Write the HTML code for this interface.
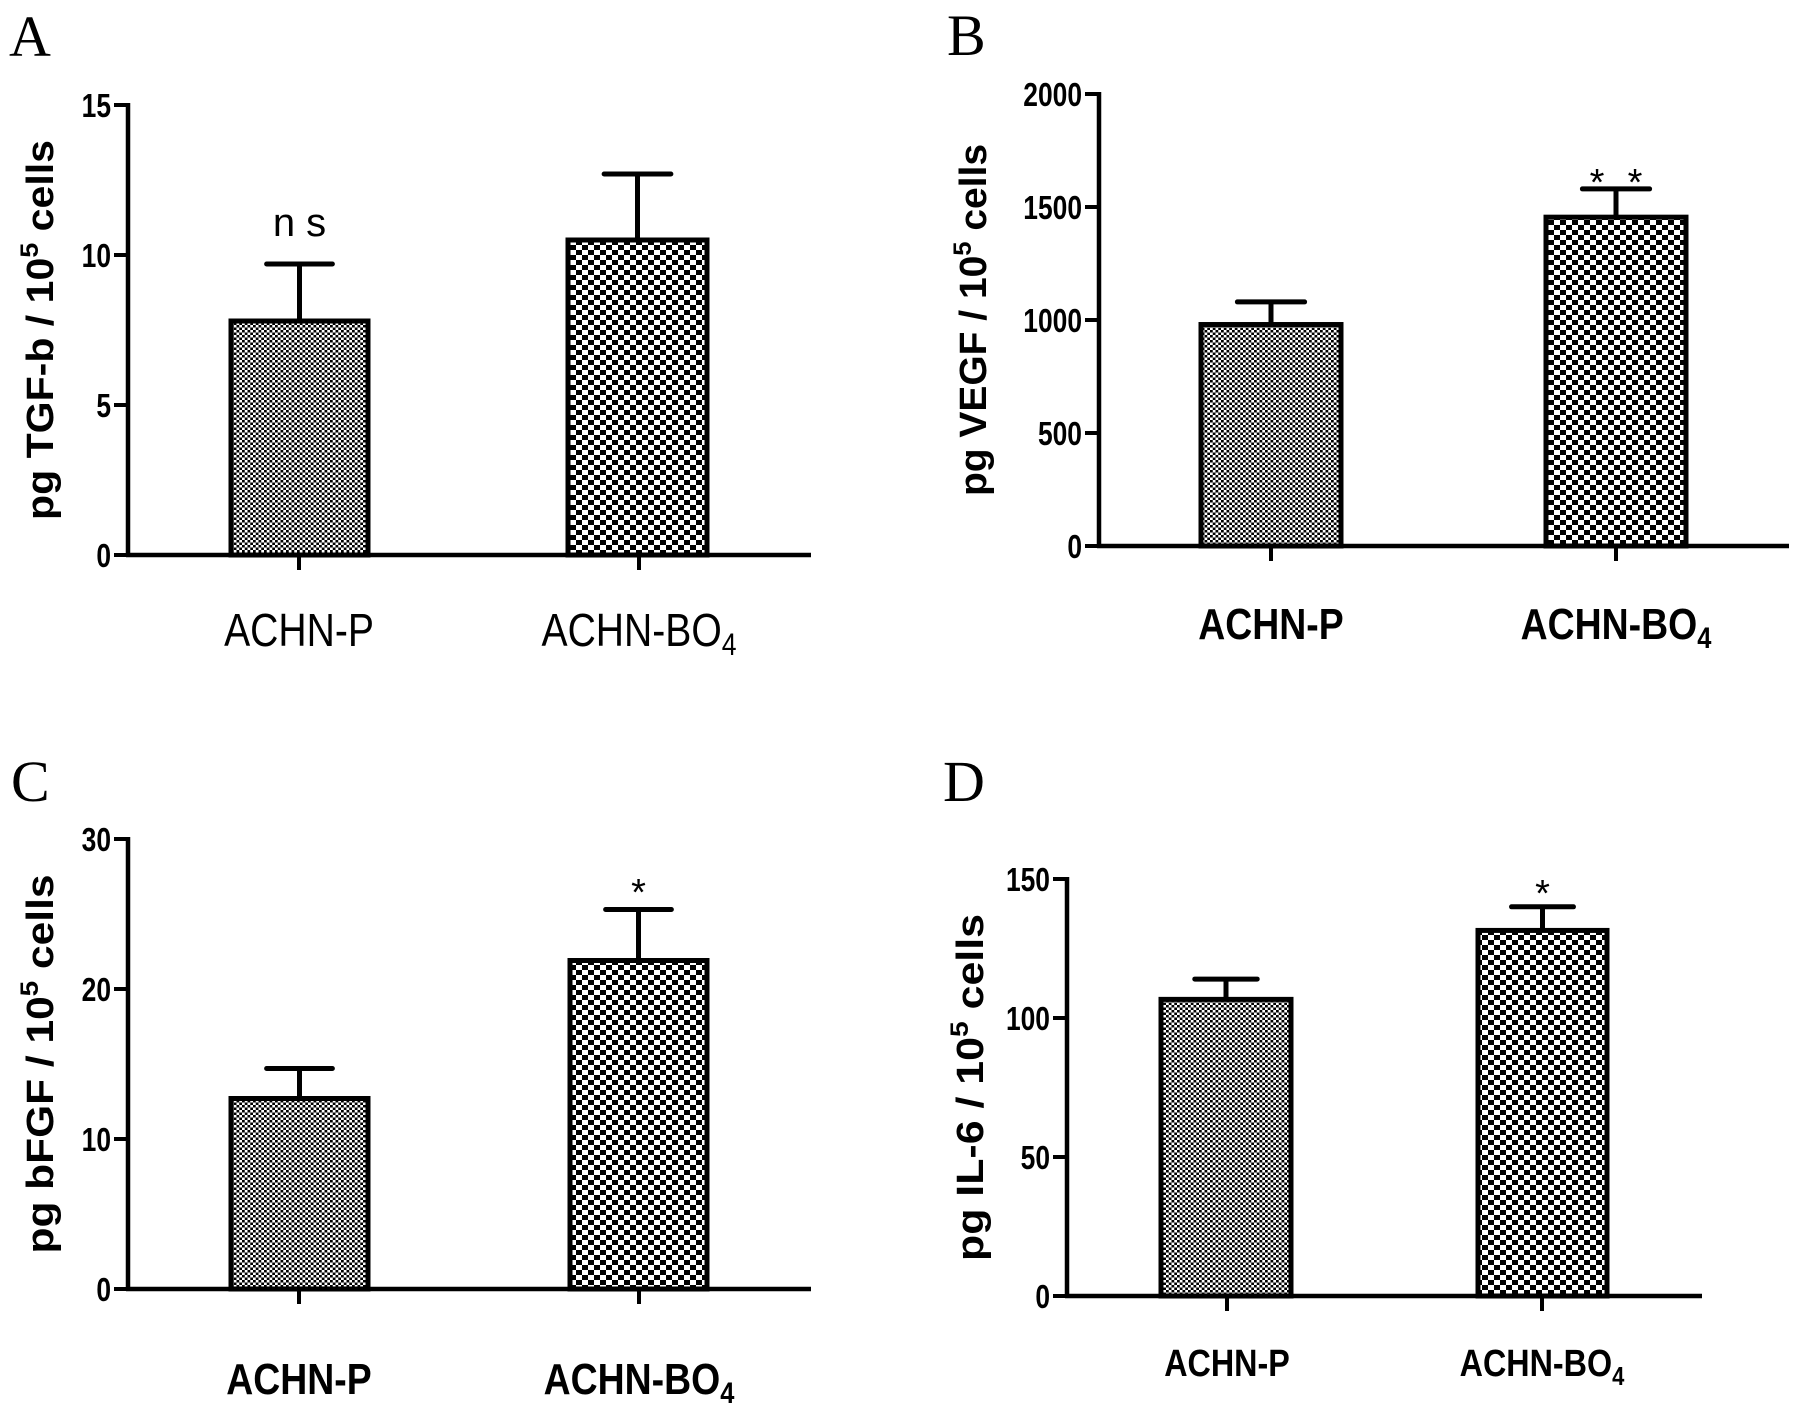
<!DOCTYPE html>
<html><head><meta charset="utf-8">
<style>
html,body{margin:0;padding:0;background:#fff;}
svg{display:block;}
text{font-family:"Liberation Sans",Arial,sans-serif;fill:#000;}
.tick{font-weight:bold;font-size:33px;}
.ytitle{font-weight:bold;font-size:38px;}
.letter{font-family:"Liberation Serif",serif;font-size:58px;}
</style></head>
<body>
<svg id="fig" width="1795" height="1403" viewBox="0 0 1795 1403" xmlns="http://www.w3.org/2000/svg">
<defs>
<pattern id="fine" width="5.5" height="5" patternUnits="userSpaceOnUse">
<rect width="5.5" height="5" fill="#fff"/><rect width="2.75" height="2.5" fill="#000"/><rect x="2.75" y="2.5" width="2.75" height="2.5" fill="#000"/>
</pattern>
<pattern id="coarse" width="12" height="10" patternUnits="userSpaceOnUse">
<rect width="12" height="10" fill="#fff"/><rect width="6" height="5" fill="#000"/><rect x="6" y="5" width="6" height="5" fill="#000"/>
</pattern>
</defs>
</svg>
<script>
const categories = ["ACHN-P", "ACHN-BO"];
const aValues = [7.8, 10.5];
const aErrors = [1.9, 2.2];
const aTicks = [0, 5, 10, 15];
const bValues = [980, 1455];
const bErrors = [100, 125];
const bTicks = [0, 500, 1000, 1500, 2000];
const cValues = [12.7, 21.9];
const cErrors = [2.0, 3.4];
const cTicks = [0, 10, 20, 30];
const dValues = [106.7, 131.5];
const dErrors = [7.3, 8.5];
const dTicks = [0, 50, 100, 150];
const annotations = [["ns", ""], ["", "**"], ["", "*"], ["", "*"]];

const NS = "http://www.w3.org/2000/svg";
const svg = document.getElementById("fig");
function mk(tag, attrs, parent) {
  const e = document.createElementNS(NS, tag);
  for (const k in attrs) e.setAttribute(k, attrs[k]);
  (parent || svg).appendChild(e);
  return e;
}

const panels = [
  {id:"a", letter:"A", lx:9, ly:56, ax:128, y0:555, y1:105, xEnd:811, max:15, ticks:aTicks, vals:aValues, errs:aErrors,
   bars:[[231,368],[568,707]], tx:[299,639], title:"pg TGF-b / 10", tlen:380, tcx:40, lblY:646, lblSize:46, lblBold:false, annY:236},
  {id:"b", letter:"B", lx:947, ly:55, ax:1099, y0:546, y1:94, xEnd:1789, max:2000, ticks:bTicks, vals:bValues, errs:bErrors,
   bars:[[1201,1341],[1546,1686]], tx:[1271,1616], title:"pg VEGF / 10", tlen:352, tcx:973, lblY:639, lblSize:44, lblBold:true, annY:195},
  {id:"c", letter:"C", lx:11, ly:801, ax:128, y0:1289, y1:839, xEnd:811, max:30, ticks:cTicks, vals:cValues, errs:cErrors,
   bars:[[231,368],[570,707]], tx:[299,639], title:"pg bFGF / 10", tlen:379, tcx:40, lblY:1394, lblSize:44, lblBold:true, annY:905},
  {id:"d", letter:"D", lx:943, ly:801, ax:1067, y0:1296, y1:879, xEnd:1702, max:150, ticks:dTicks, vals:dValues, errs:dErrors,
   bars:[[1161,1291],[1478,1607]], tx:[1227,1542], title:"pg IL-6 / 10", tlen:347, tcx:970, lblY:1376, lblSize:38, lblBold:true, annY:906}
];

panels.forEach((p, pi) => {
  const g = mk("g", {});
  
  
  const yScale = v => p.y0 - (v / p.max) * (p.y0 - p.y1);

  const L = mk("text", {x:p.lx, y:p.ly, class:"letter"}, g);
  L.textContent = p.letter;
  
  

  p.vals.forEach((v, i) => {
    const [x0, x1] = p.bars[i];
    const top = yScale(v);
    const et = yScale(v + p.errs[i]);
    const cx = (x0 + x1) / 2;
    const eb = mk("line", {x1:cx, y1:top, x2:cx, y2:et, stroke:"#000", "stroke-width":5}, g);
    
    
    const cap = mk("line", {x1:cx - (x1 - x0) * 0.24, y1:et, x2:cx + (x1 - x0) * 0.24, y2:et, stroke:"#000", "stroke-width":5, "stroke-linecap":"round"}, g);
    
    
    const r = mk("rect", {x:x0, y:top, width:x1 - x0, height:p.y0 - top, fill:i === 0 ? "url(#fine)" : "url(#coarse)", stroke:"#000", "stroke-width":5}, g);
    
    
    const ann = annotations[pi][i];
    if (ann === "ns") {
      const t = mk("text", {x:cx, y:p.annY, "text-anchor":"middle", "font-size":40}, g);
      t.textContent = "n s";
      
      
    } else if (ann) {
      const n = ann.length;
      for (let k = 0; k < n; k++) {
        const sx = cx + (k - (n - 1) / 2) * 38;
        const t = mk("text", {x:sx, y:p.annY, "text-anchor":"middle", "font-size":38}, g);
        t.textContent = "*";
        
        
      }
    }
  });

  const ya = mk("line", {x1:p.ax, y1:p.y1 - 2, x2:p.ax, y2:p.y0 + 2, stroke:"#000", "stroke-width":4.5}, g);
  
  
  const xa = mk("line", {x1:p.ax - 2, y1:p.y0, x2:p.xEnd, y2:p.y0, stroke:"#000", "stroke-width":4.5}, g);
  
  

  p.ticks.forEach(t => {
    const y = yScale(t);
    mk("line", {x1:p.ax - 14, y1:y, x2:p.ax, y2:y, stroke:"#000", "stroke-width":4}, g);
    const tl = mk("text", {x:0, y:0, "text-anchor":"end", class:"tick", transform:"translate(" + (p.ax - 17) + "," + (y + 12) + ") scale(0.8,1)"}, g);
    tl.textContent = t;
    
    
  });

  p.tx.forEach((x, i) => {
    mk("line", {x1:x, y1:p.y0, x2:x, y2:p.y0 + 15, stroke:"#000", "stroke-width":4}, g);
    const cl = mk("text", {x:0, y:0, "text-anchor":"middle", "font-size":p.lblSize, "font-weight":p.lblBold ? "bold" : "normal", transform:"translate(" + x + "," + p.lblY + ") scale(0.85,1)"}, g);
    cl.textContent = categories[i];
    if (i === 1) {
      const sub = mk("tspan", {"font-size":p.lblSize * 0.68, dy:9}, cl);
      sub.textContent = "4";
    }
    
    
  });

  const cy = (p.y0 + p.y1) / 2;
  const tt = mk("text", {x:p.tcx, y:cy, "text-anchor":"middle", class:"ytitle", transform:"rotate(-90 " + p.tcx + " " + cy + ")", dy:13, textLength:p.tlen, lengthAdjust:"spacingAndGlyphs"}, g);
  tt.textContent = p.title;
  const sup = mk("tspan", {"font-size":25, dy:-15}, tt);
  sup.textContent = "5";
  const rest = mk("tspan", {dy:15}, tt);
  rest.textContent = " cells";
  
  
});
</script>
</body></html>
